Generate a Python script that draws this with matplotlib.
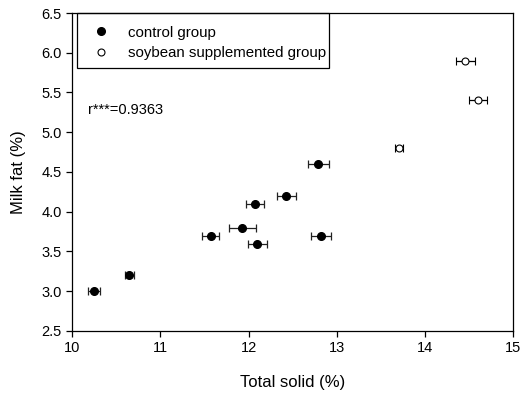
import numpy as np
import matplotlib.pyplot as plt
from matplotlib.lines import Line2D
from matplotlib.patches import Rectangle

plt.rcParams['font.family'] = ['Liberation Sans', 'DejaVu Sans']

# control group
ctrl_x = [10.25, 10.65, 11.57, 11.93, 12.07, 12.10, 12.43, 12.79, 12.82]
ctrl_y = [3.0, 3.2, 3.7, 3.8, 4.1, 3.6, 4.2, 4.6, 3.7]
ctrl_xerr = [0.07, 0.055, 0.10, 0.155, 0.10, 0.105, 0.105, 0.12, 0.115]

# soybean supplemented group
soy_x = [13.71, 14.46, 14.60]
soy_y = [4.8, 5.9, 5.4]
soy_xerr = [0.045, 0.105, 0.105]

fig = plt.figure(figsize=(5.23, 3.94), dpi=100)
ax = fig.add_axes([0.138, 0.16, 0.843, 0.807])

ax.errorbar(ctrl_x, ctrl_y, xerr=ctrl_xerr, fmt='o', color='black', ecolor='#222222',
            markersize=5.5, capsize=3, elinewidth=0.9, capthick=0.9)
ax.errorbar(soy_x, soy_y, xerr=soy_xerr, fmt='o', color='black', mfc='white', mec='black',
            markersize=5, capsize=3, elinewidth=0.9, capthick=0.9, mew=0.8)

ax.text(10.18, 5.28, 'r***=0.9363', fontsize=10.5, va='center', ha='left')

ax.set_xlim(10, 15)
ax.set_ylim(2.5, 6.5)
ax.set_xticks([10, 11, 12, 13, 14, 15])
ax.set_yticks(np.arange(2.5, 6.51, 0.5))
ax.set_yticklabels(['%.1f' % v for v in np.arange(2.5, 6.51, 0.5)])
ax.tick_params(direction='out', length=4, width=0.9, labelsize=10.5)
for s in ax.spines.values():
    s.set_linewidth(0.9)

ax.set_xlabel('Total solid (%)', fontsize=12, labelpad=14)
ax.set_ylabel('Milk fat (%)', fontsize=12, labelpad=11)

# legend box drawn separately
ax.add_patch(Rectangle((0.0113, 0.827), 0.571, 0.173, transform=ax.transAxes,
                       fill=False, edgecolor='black', linewidth=0.9, clip_on=False))
handles = [Line2D([], [], marker='o', ls='none', color='black', markersize=5.5),
           Line2D([], [], marker='o', ls='none', mfc='white', mec='black', mew=0.8, markersize=5)]
leg = ax.legend(handles, ['control group', 'soybean supplemented group'],
                loc='upper left', bbox_to_anchor=(0.0113, 0.984), fontsize=10.8, frameon=False,
                borderaxespad=0, handletextpad=0.7,
                borderpad=0.5, labelspacing=0.45, handlelength=2.2)

plt.savefig('out.png')
